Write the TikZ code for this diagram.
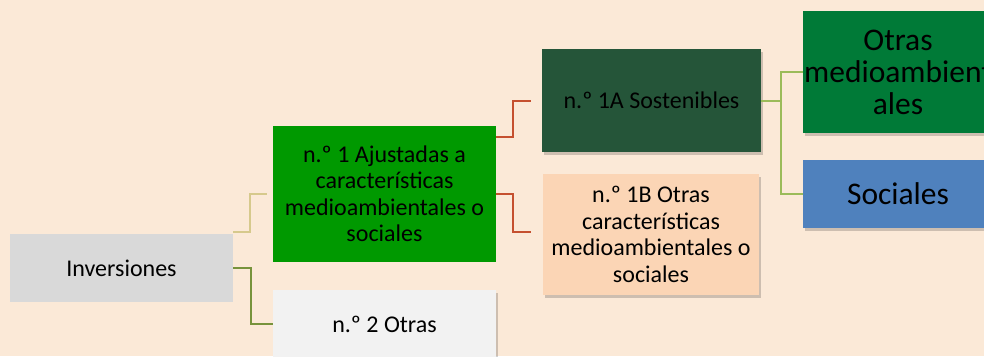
\documentclass[tikz,border=0pt]{standalone}
\usepackage{fontspec}
\setmainfont{Carlito}
\usetikzlibrary{shadows}
\definecolor{bgc}{HTML}{FBE9D7}
\definecolor{invc}{HTML}{D9D9D9}
\definecolor{gonec}{HTML}{009900}
\definecolor{twoc}{HTML}{F2F2F2}
\definecolor{aonec}{HTML}{255539}
\definecolor{bonec}{HTML}{FBD5B5}
\definecolor{omc}{HTML}{007A37}
\definecolor{socc}{HTML}{4F81BD}
\definecolor{tanc}{HTML}{D6C98C}
\definecolor{olivec}{HTML}{77933C}
\definecolor{redc}{HTML}{C5502F}
\definecolor{lgreenc}{HTML}{9BBB59}
\tikzset{
  boxbase/.style={inner sep=0pt, align=center, text=black, font=\fontsize{24}{26.5}\selectfont},
  shadowed/.style={drop shadow={shadow xshift=2pt, shadow yshift=-3pt, fill=black, opacity=0.18}},
  bigtext/.style={font=\fontsize{31.5}{32}\selectfont},
  conn/.style={line width=2pt}
}
\begin{document}
\begin{tikzpicture}[x=1pt,y=-1pt]
\useasboundingbox (0,0) rectangle (984,356);
\clip (0,0) rectangle (984,356);
\fill[bgc] (0,0) rectangle (984,356);
% nodes
\node[boxbase, fill=invc, minimum width=223pt, minimum height=68pt] (inv) at (121.5,268) {Inversiones};
\node[boxbase, fill=gonec, minimum width=223pt, minimum height=136pt] (n1) at (384.5,194) {n.º 1 Ajustadas a\\características\\medioambientales o\\sociales};
\node[boxbase, shadowed, fill=twoc, minimum width=223pt, minimum height=68pt] (n2) at (384.5,324) {n.º 2 Otras};
\node[boxbase, shadowed, fill=aonec, minimum width=219pt, minimum height=103pt] (a1) at (651.5,100.5) {n.º 1A Sostenibles};
\node[boxbase, shadowed, fill=bonec, minimum width=216pt, minimum height=121pt] (b1) at (651,234.5) {n.º 1B Otras\\características\\medioambientales o\\sociales};
\node[boxbase, bigtext, shadowed, fill=omc, minimum width=190pt, minimum height=122pt] (om) at (898,72) {Otras\\medioambient\\ales};
\node[boxbase, bigtext, shadowed, fill=socc, minimum width=190pt, minimum height=68pt] (soc) at (898,194) {Sociales};
% connectors
\draw[conn, tanc] ([yshift=2pt]inv.north east) -- ++(17,0) |- ([xshift=-6pt]n1.west);
\draw[conn, olivec] (inv.east) -- ++(18,0) |- (n2.west);
\draw[conn, redc] ([yshift=-11pt]n1.north east) -- ++(17,0) |- ([xshift=-11pt]a1.west);
\draw[conn, redc] (n1.east) -- ++(17,0) |- ([xshift=-12pt,yshift=2.5pt]b1.west);
\draw[conn, lgreenc] (a1.east) -- ++(20,0) coordinate (j);
\draw[conn, lgreenc] (j) |- (om.west);
\draw[conn, lgreenc] (j) |- (soc.west);
\end{tikzpicture}
\end{document}
